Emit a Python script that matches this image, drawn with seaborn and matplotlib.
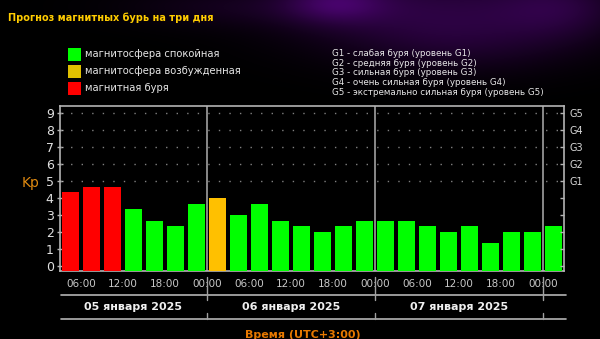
import numpy as np
import pandas as pd
import matplotlib
matplotlib.use("Agg")
import matplotlib.pyplot as plt
from matplotlib import transforms
from matplotlib.lines import Line2D
from matplotlib.patches import Rectangle
import seaborn as sns

# ---------------- data ----------------
kp_values = [4.33, 4.67, 4.67, 3.33, 2.67, 2.33, 3.67,
             4.00, 3.00, 3.67, 2.67, 2.33, 2.00, 2.33, 2.67,
             2.67, 2.67, 2.33, 2.00, 2.33, 1.33, 2.00, 2.00,
             2.33]
status = (["storm"] * 3 + ["quiet"] * 4 + ["active"] + ["quiet"] * 16)
time_labels = ["06:00", "12:00", "18:00", "00:00"] * 3
day_labels = ["05 января 2025", "06 января 2025", "07 января 2025"]
day_bounds = [-0.5, 6.5, 14.5, 22.5]
legend_labels = ["магнитосфера спокойная", "магнитосфера возбужденная", "магнитная буря"]
g_labels = ["G1", "G2", "G3", "G4", "G5"]
g_desc = ["G1 - слабая буря (уровень G1)",
          "G2 - средняя буря (уровень G2)",
          "G3 - сильная буря (уровень G3)",
          "G4 - очень сильная буря (уровень G4)",
          "G5 - экстремально сильная буря (уровень G5)"]
title = "Прогноз магнитных бурь на три дня"
xlabel = "Время (UTC+3:00)"

palette = {"quiet": "#00FF00", "active": "#FFC000", "storm": "#FF0000"}
legend_colors = ["#00FF00", "#E0C000", "#FF0000"]

sns.set_theme(style="dark")
plt.rcParams["font.family"] = ["DejaVu Sans"]

W, H = 600, 339
fig = plt.figure(figsize=(W / 100, H / 100), dpi=100)
fig.patch.set_facecolor("black")

def fx(px):
    return px / W

def fy(py):
    return 1 - py / H

# ---------------- background (decorative nebula) ----------------
bg = fig.add_axes([0, 0, 1, 1], zorder=-5)
yy, xx = np.mgrid[0:H, 0:W]
field = np.zeros((H, W))
for cx, cy, sx, sy, a in [(430, 10, 100, 30, 0.38), (335, 2, 35, 14, 0.40),
                          (560, 6, 45, 22, 0.28), (230, 6, 80, 14, 0.15),
                          (470, 45, 80, 22, 0.14)]:
    field += a * np.exp(-(((xx - cx) / sx) ** 2 + ((yy - cy) / sy) ** 2) / 2)
field = np.clip(field, 0, 1)
img = np.stack([field * 0.40, field * 0.02, field * 0.60], axis=-1)
bg.imshow(img, extent=[0, W, H, 0], aspect="auto")
bg.axis("off")

# ---------------- main axes ----------------
ymin, ymax = -0.31, 9.43
ax = fig.add_axes([fx(60), fy(271), fx(564) - fx(60), fy(106) - fy(271)])
ax.set_facecolor("black")

df = pd.DataFrame({"slot": list(range(len(kp_values))), "kp": kp_values, "status": status})
sns.barplot(data=df, x="slot", y="kp", hue="status", palette=palette, dodge=False,
            legend=False, ax=ax, width=0.8, saturation=1, linewidth=0, errorbar=None)
for p in ax.patches:
    h = p.get_height()
    p.set_y(ymin)
    p.set_height(h - ymin)
    p.set_zorder(3)

ax.set_xlim(-0.5, len(kp_values) - 0.5)
ax.set_ylim(ymin, ymax)
ax.grid(False)

# dotted grid at the G levels
for lv in range(5, 10):
    ax.hlines(lv, -0.5, len(kp_values) - 0.5, colors="#808080",
              linestyles=(0, (1, 6.6)), lw=1.0, zorder=1)
# day separators
for b in day_bounds[1:]:
    ax.axvline(b, color="#a0a0a0", lw=1.2, zorder=2)

for s in ax.spines.values():
    s.set_color("#b4b4b4")
    s.set_linewidth(1.2)
    s.set_visible(True)

ax.set_xlabel("")
ax.set_ylabel("")
ax.set_xticks([i + 0.5 for i in range(0, 24, 2)])
ax.set_xticklabels(time_labels, fontsize=7.5, color="#c8c8c8")
ax.tick_params(axis="x", direction="out", length=3, width=1, color="#b4b4b4", pad=3)
ax.set_yticks(range(10))
ax.set_yticklabels([str(i) for i in range(10)], fontsize=9, color="#e0e0e0")
ax.tick_params(axis="y", direction="inout", length=5, width=1, color="#b4b4b4", pad=2,
               left=True)

ax2 = ax.twinx()
ax2.set_ylim(ymin, ymax)
ax2.set_yticks(range(10))
ax2.set_yticklabels([""] * 5 + g_labels, fontsize=7, color="#d8d8d8")
ax2.tick_params(axis="y", direction="in", length=3, width=1, color="#b4b4b4", pad=4, right=True)
ax2.grid(False)
for s in ax2.spines.values():
    s.set_visible(False)

# Kp label
fig.text(fx(31), fy(183), "Kp", color="#E08A10", fontsize=10, ha="center", va="center")

# ---------------- bottom date band ----------------
blend = transforms.blended_transform_factory(ax.transData, fig.transFigure)
for py in (295, 319):
    fig.add_artist(Line2D([fx(61), fx(566)], [fy(py), fy(py)], color="#b4b4b4", lw=1.2,
                          transform=fig.transFigure))
for b in day_bounds[1:]:
    fig.add_artist(Line2D([b, b], [fy(277), fy(300)], color="#a0a0a0", lw=1, transform=blend))
    fig.add_artist(Line2D([b, b], [fy(313), fy(319)], color="#a0a0a0", lw=1, transform=blend))
for i, lab in enumerate(day_labels):
    xc = (day_bounds[i] + day_bounds[i + 1]) / 2
    fig.text(xc, fy(307), lab, transform=blend, ha="center", va="center",
             fontsize=8, fontweight="bold", color="#f0f0f0")
fig.text(fx(303), fy(335), xlabel, ha="center", va="center", fontsize=8,
         fontweight="bold", color="#E67800")

# ---------------- title and legends ----------------
fig.text(fx(8), fy(18), title, ha="left", va="center", fontsize=7,
         fontweight="bold", color="#FFCC00")

for i, (lab, col) in enumerate(zip(legend_labels, legend_colors)):
    yc = 54 + i * 17
    fig.add_artist(Rectangle((fx(68), fy(yc + 6.5)), fx(13), fy(0) - fy(13), facecolor=col,
                             edgecolor="none", transform=fig.transFigure))
    fig.text(fx(85), fy(yc), lab, ha="left", va="center", fontsize=7.2, color="#e6e6e6")

for i, lab in enumerate(g_desc):
    fig.text(fx(332), fy(53.3 + i * 9.75), lab, ha="left", va="center", fontsize=6.3,
             color="#e6e6e6")

fig.savefig("out.png", dpi=100, facecolor="black")
